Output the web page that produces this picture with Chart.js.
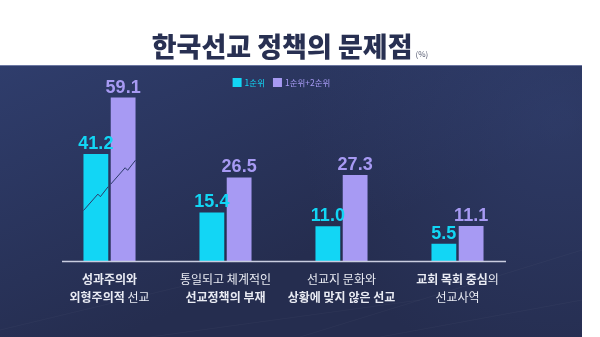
<!DOCTYPE html>
<html><head><meta charset="utf-8">
<script src="https://cdn.jsdelivr.net/npm/chart.js@4.4.1/dist/chart.umd.min.js"></script>
<style>html,body{margin:0;padding:0;background:#fff;overflow:hidden}#wrap{width:600px;height:337px;position:relative}</style>
</head><body><div id="wrap"><canvas id="c"></canvas></div>
<script>
// ---- data ----
const chartTitle = '한국선교 정책의 문제점';
const unitLabel = '(%)';
const categories = [
  ['성과주의와', '외형주의적 선교'],
  ['통일되고 체계적인', '선교정책의 부재'],
  ['선교지 문화와', '상황에 맞지 않은 선교'],
  ['교회 목회 중심의', '선교사역']
];
const seriesNames = ['1순위', '1순위+2순위'];
const rank1 = [41.2, 15.4, 11.0, 5.5];
const rank1and2 = [59.1, 26.5, 27.3, 11.1];

// ---- style ----
const CYAN = '#12d6f5';
const LAVENDER = '#a79af3';
const boldSegments = ['성과주의와', '외형주의적', '선교정책의 부재', '상황에 맞지 않은 선교', '교회 목회 중심'];
const BREAK_FROM = 30, BREAK_TO = 37.25; // axis break (values skipped)
const KFONT = '"Noto Sans CJK KR", "Noto Sans", sans-serif';

class BrokenLinearScale extends Chart.LinearScale {
  squash(v) {
    if (v === null || v === undefined) return v;
    if (v <= BREAK_FROM) return v;
    if (v >= BREAK_TO) return v - (BREAK_TO - BREAK_FROM);
    return BREAK_FROM;
  }
  getPixelForValue(v) { return super.getPixelForValue(this.squash(v)); }
}
BrokenLinearScale.id = 'brokenLinear';
BrokenLinearScale.defaults = Chart.LinearScale.defaults;
Chart.register(BrokenLinearScale);

const bgPlugin = {
  id: 'bg',
  beforeDraw(chart) {
    const ctx = chart.ctx, W = chart.width, H = chart.height;
    ctx.save();
    ctx.fillStyle = '#ffffff';
    ctx.fillRect(0, 0, W, H);
    const top = 65, right = 582;
    const g = ctx.createLinearGradient(0, top, 120, H);
    g.addColorStop(0, '#2f3d6c');
    g.addColorStop(1, '#252d4f');
    ctx.fillStyle = g;
    ctx.fillRect(0, top, right, H - top);
    const g2 = ctx.createRadialGradient(560, 120, 10, 560, 120, 260);
    g2.addColorStop(0, 'rgba(60,80,140,0.35)');
    g2.addColorStop(1, 'rgba(60,80,140,0)');
    ctx.fillStyle = g2;
    ctx.fillRect(0, top, right, H - top);
    // faint streaks
    ctx.strokeStyle = 'rgba(255,255,255,0.03)';
    ctx.lineWidth = 1;
    [[0, 330, 250, 270], [300, 337, 582, 250], [150, 337, 420, 300], [380, 337, 582, 300]].forEach(l => {
      ctx.beginPath(); ctx.moveTo(l[0], l[1]); ctx.lineTo(l[2], l[3]); ctx.stroke();
    });
    // top edge highlight
    ctx.fillStyle = 'rgba(150,160,200,0.6)';
    ctx.fillRect(0, top, right, 1);
    // title
    ctx.font = '900 27px ' + KFONT;
    const tw = ctx.measureText(chartTitle).width;
    ctx.font = '400 8px ' + KFONT;
    const uw = ctx.measureText(unitLabel).width;
    const total = tw + 3 + uw;
    const x0 = 290 - total / 2;
    ctx.textBaseline = 'alphabetic';
    ctx.textAlign = 'left';
    ctx.fillStyle = '#283052';
    ctx.font = '900 27px ' + KFONT;
    ctx.fillText(chartTitle, x0, 57);
    ctx.fillStyle = '#555a70';
    ctx.font = '400 8px ' + KFONT;
    ctx.fillText(unitLabel, x0 + tw + 3, 57);
    ctx.restore();
  }
};

function drawMixedLine(ctx, line, cx, y) {
  const seg = boldSegments.find(s => line.includes(s));
  let parts;
  if (seg) {
    const i = line.indexOf(seg);
    parts = [{ t: line.slice(0, i), b: false }, { t: seg, b: true }, { t: line.slice(i + seg.length), b: false }].filter(p => p.t.length);
  } else parts = [{ t: line, b: false }];
  const fontOf = b => (b ? '700' : '400') + ' 12px ' + KFONT;
  let total = 0;
  parts.forEach(p => { ctx.font = fontOf(p.b); p.w = ctx.measureText(p.t).width; total += p.w; });
  let x = cx - total / 2;
  parts.forEach(p => { ctx.font = fontOf(p.b); ctx.fillText(p.t, x, y); x += p.w; });
}

const overlayPlugin = {
  id: 'overlay',
  afterDatasetsDraw(chart) {
    const ctx = chart.ctx, xs = chart.scales.x, ys = chart.scales.y, ca = chart.chartArea;
    ctx.save();
    // axis line
    ctx.strokeStyle = '#c9cde0';
    ctx.lineWidth = 1.5;
    ctx.beginPath();
    ctx.moveTo(ca.left + 10.5, ca.bottom + 0.5);
    ctx.lineTo(ca.right - 9.5, ca.bottom + 0.5);
    ctx.stroke();

    // axis-break marks on bars exceeding the break
    const lin = v => ys.getPixelForDecimal(v / ys.max);
    const metas = [chart.getDatasetMeta(0), chart.getDatasetMeta(1)];
    categories.forEach((c, i) => {
      const bars = metas.map(m => m.data[i]);
      const vals = [rank1[i], rank1and2[i]];
      if (!vals.some(v => v > BREAK_TO)) return;
      const xl = bars[0].x - bars[0].width / 2, xr = bars[1].x + bars[1].width / 2;
      const yl = lin(16), yr = lin(32);
      const yAt = x => yl + (yr - yl) * (x - xl) / (xr - xl);
      ctx.strokeStyle = '#2c3a6a';
      ctx.lineWidth = 1;
      bars.forEach((b, k) => {
        if (vals[k] <= BREAK_TO) return;
        const a = b.x - b.width / 2, z = b.x + b.width / 2;
        const m1 = b.x + 2, m2 = b.x + 4.5;
        ctx.beginPath();
        ctx.moveTo(a, yAt(a));
        ctx.lineTo(m1, yAt(m1) - 2.5);
        ctx.lineTo(m2, yAt(m2) + 2.5);
        ctx.lineTo(z, yAt(z));
        ctx.stroke();
      });
    });

    // value labels
    ctx.textAlign = 'center';
    ctx.textBaseline = 'alphabetic';
    ctx.font = '700 18px "Liberation Sans", Arial, sans-serif';
    [rank1, rank1and2].forEach((arr, d) => {
      ctx.fillStyle = d === 0 ? CYAN : LAVENDER;
      metas[d].data.forEach((b, i) => {
        ctx.fillText(arr[i].toFixed(1), b.x, b.y - 5);
      });
    });

    // category labels
    ctx.fillStyle = '#e9ebf3';
    ctx.textBaseline = 'middle';
    ctx.textAlign = 'left';
    categories.forEach((lines, i) => {
      const cx = xs.getPixelForValue(i);
      lines.forEach((ln, j) => drawMixedLine(ctx, ln, cx, 279 + j * 18));
    });

    // legend
    ctx.font = '400 8.5px ' + KFONT;
    const box = 9, gapBox = 3, gapItem = 8;
    const widths = seriesNames.map(s => ctx.measureText(s).width);
    const totalW = widths.reduce((a, w) => a + box + gapBox + w, 0) + gapItem;
    let lx = 281.5 - totalW / 2;
    const ly = 82.5;
    seriesNames.forEach((s, k) => {
      const col = k === 0 ? CYAN : LAVENDER;
      ctx.fillStyle = col;
      ctx.fillRect(lx, ly - box / 2, box, box);
      lx += box + gapBox;
      ctx.fillText(s, lx, ly + 0.5);
      lx += widths[k] + gapItem;
    });
    ctx.restore();
  }
};

new Chart(document.getElementById('c'), {
  type: 'bar',
  data: {
    labels: categories.map(c => c.join(' ')),
    datasets: [
      { label: seriesNames[0], data: rank1, backgroundColor: CYAN, categoryPercentage: 0.47, barPercentage: 0.91 },
      { label: seriesNames[1], data: rank1and2, backgroundColor: LAVENDER, categoryPercentage: 0.47, barPercentage: 0.91 }
    ]
  },
  options: {
    responsive: true,
    maintainAspectRatio: false,
    animation: false,
    layout: { padding: { left: 51.5, right: 84.5, top: 65, bottom: 76 } },
    plugins: { legend: { display: false }, title: { display: false }, tooltip: { enabled: false } },
    scales: {
      x: { display: false },
      y: { type: 'brokenLinear', display: false, min: 0, max: 62.2 }
    }
  },
  plugins: [bgPlugin, overlayPlugin]
});
</script>
</body></html>
